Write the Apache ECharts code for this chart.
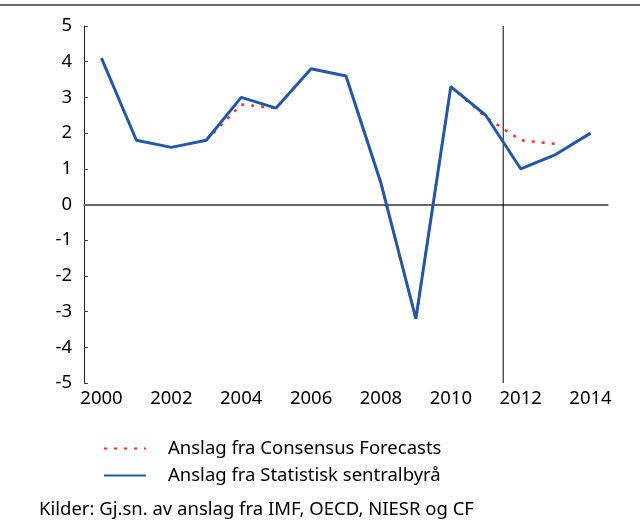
<!DOCTYPE html>
<html>
<head>
<meta charset="utf-8">
<script src="https://cdn.jsdelivr.net/npm/echarts@6/dist/echarts.min.js"></script>
<style>
  html, body { margin: 0; padding: 0; background: #fff; }
  #myChart { width: 640px; height: 521px; }
</style>
</head>
<body>
<div id="myChart"></div>
<script>
// år på x-aksen
const years = ['2000', '2001', '2002', '2003', '2004', '2005', '2006', '2007',
  '2008', '2009', '2010', '2011', '2012', '2013', '2014']
// Consensus Forecasts (rød prikket), starter 2003
const consensus = [null, null, null, 1.8, 2.8, 2.7, 3.8, 3.6, 0.6, -3.2, 3.3, 2.45, 1.8, 1.7, null]
// Statistisk sentralbyrå (blå)
const ssb = [4.1, 1.8, 1.6, 1.8, 3.0, 2.7, 3.8, 3.6, 0.6, -3.2, 3.3, 2.5, 1.0, 1.4, 2.0]
const seriesNames = ['Anslag fra Consensus Forecasts', 'Anslag fra Statistisk sentralbyrå']
// skillelinje mellom 2011 og 2012 (kategoriindeks)
const splitIndex = 11.5
const yRange = [-5, 5]
const sourceText = 'Kilder: Gj.sn. av anslag fra IMF, OECD, NIESR og CF'

const font = 'Noto Sans'
const fs = 18.5
let myChart = echarts.init(document.getElementById('myChart'), null, {renderer: 'canvas'})
myChart.setOption({
  animation: false,
  textStyle: { fontFamily: font },
  grid: { left: 84, right: 32, top: 26, bottom: 138 },
  legend: {
    orient: 'vertical',
    left: 98,
    top: 434,
    itemWidth: 42,
    itemHeight: 14,
    itemGap: 8,
    data: seriesNames,
    itemStyle: { opacity: 0 },
    textStyle: { fontSize: fs, color: '#000', fontFamily: font, padding: [0, 0, 0, 17] }
  },
  graphic: [
    {
      type: 'rect',
      left: 0,
      top: 4,
      shape: { width: 640, height: 2 },
      style: { fill: '#6b6b6b' }
    },
    {
      type: 'text',
      left: 39,
      top: 500,
      style: { text: sourceText, fontSize: fs, fill: '#000', fontFamily: font }
    }
  ],
  xAxis: [
    {
      type: 'category',
      data: years,
      boundaryGap: true,
      axisLine: { lineStyle: { color: '#666', width: 1.5 } },
      axisTick: { inside: true, length: 4, interval: 0, lineStyle: { color: '#444' } },
      axisLabel: { interval: 1, color: '#000', fontSize: fs, margin: 6 },
      splitLine: { show: false }
    },
    {
      // skjult akse for den loddrette skillelinjen
      type: 'value',
      show: false,
      min: -0.5,
      max: years.length - 0.5,
      splitLine: { show: false }
    }
  ],
  yAxis: {
    type: 'value',
    min: yRange[0],
    max: yRange[1],
    interval: 1,
    axisLine: { show: true, onZero: false, lineStyle: { color: '#222', width: 1 } },
    axisTick: { show: true, inside: true, length: 4, lineStyle: { color: '#444' } },
    axisLabel: { color: '#000', fontSize: fs, margin: 12 },
    splitLine: { show: false }
  },
  series: [
    {
      name: 'skille',
      type: 'line',
      xAxisIndex: 1,
      data: [[splitIndex, yRange[0]], [splitIndex, yRange[1]]],
      symbol: 'none',
      silent: true,
      z: 1,
      lineStyle: { color: '#000', width: 1 }
    },
    {
      name: seriesNames[0],
      type: 'line',
      data: consensus,
      symbol: 'none',
      z: 2,
      lineStyle: { color: '#ff2b2b', width: 2.5, type: [3, 7] },
      itemStyle: { color: '#ff2b2b' }
    },
    {
      name: seriesNames[1],
      type: 'line',
      data: ssb,
      symbol: 'none',
      z: 3,
      lineStyle: { color: '#2258a6', width: 3 },
      itemStyle: { color: '#2258a6' },
      markLine: {
        silent: true,
        symbol: 'none',
        label: { show: false },
        z: 1,
        data: [
          { yAxis: 0, lineStyle: { color: '#666', width: 2, type: 'solid' } }
        ]
      }
    }
  ]
})
</script>
</body>
</html>
